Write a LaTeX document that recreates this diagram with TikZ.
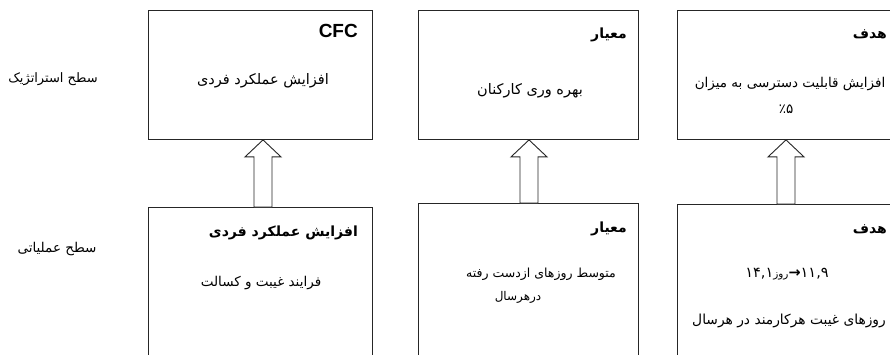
\documentclass[tikz,border=0pt]{standalone}
\usepackage{fontspec}
\setmainfont{Liberation Sans}
\newfontfamily\fa[Script=Arabic]{DejaVu Sans}
\TeXXeTstate=1
\usetikzlibrary{calc}
\newcommand\blockup[3]{%
  \draw[blockarrow] let \p1=(#1.south), \p2=(#2.north), \p3=(#3,0) in
    (\x3,\y1) -- (\x3+18pt,\y1-17pt) -- (\x3+9pt,\y1-17pt) -- (\x3+9pt,\y2)
    -- (\x3-9pt,\y2) -- (\x3-9pt,\y1-17pt) -- (\x3-18pt,\y1-17pt) -- cycle;}
\newcommand\fs[1]{\fontsize{#1}{#1}\selectfont}
\begin{document}
\begin{tikzpicture}[x=1pt,y=-1pt,
  box/.style={draw=black!85, line width=0.9pt, anchor=north west, inner sep=0pt},
  blockarrow/.style={draw=black!85, line width=0.9pt, fill=white},
  body/.style={font=\fa, inner sep=0pt},
  title/.style={font=\fa\bfseries\fs{14}, inner sep=0pt, anchor=east},
  side/.style={font=\fa, inner sep=0pt}]
\clip (0,0) rectangle (890,354);
\fill[white] (0,0) rectangle (890,354);
% boxes
\node[box, minimum width=224pt, minimum height=129pt] (b1) at (148,10) {};
\node[box, minimum width=220pt, minimum height=129pt] (b2) at (418,10) {};
\node[box, minimum width=240pt, minimum height=129pt] (b3) at (677,10) {};
\node[box, minimum width=224pt, minimum height=180pt] (b4) at (148,207) {};
\node[box, minimum width=220pt, minimum height=180pt] (b5) at (418,203) {};
\node[box, minimum width=240pt, minimum height=180pt] (b6) at (677,204) {};
% arrows
\blockup{b1}{b4}{263}
\blockup{b2}{b5}{529}
\blockup{b3}{b6}{786}
% side labels
\node[side] (s1) at (53,79) {\fs{13}\beginR سطح استراتژیک\endR};
\node[side] (s2) at (57,249) {\fs{13.5}\beginR سطح عملیاتی\endR};
% box 1
\node[inner sep=0pt, anchor=east, font=\bfseries\fs{19}] (t1) at (358,31) {CFC};
\node[body] (c1) at (263,81) {\fs{14.5}\beginR افزایش عملکرد فردی\endR};
% box 2
\node[title] (t2) at (627,35) {\beginR معیار\endR};
\node[body] (c2) at (530,91) {\fs{14.5}\beginR بهره وری کارکنان\endR};
% box 3
\node[title] (t3) at (887,34) {\beginR هدف\endR};
\node[body] (c3) at (790,84) {\fs{13.5}\beginR افزایش قابلیت دسترسی به میزان\endR};
\node[body] (c3b) at (786,109) {\fs{13.5}٪۵};
% box 4
\node[title] (t4) at (358,233) {\beginR افزایش عملکرد فردی\endR};
\node[body] (c4) at (261,283) {\fs{13.5}\beginR فرایند غیبت و کسالت\endR};
% box 5
\node[title] (t5) at (627,229) {\beginR معیار\endR};
\node[body] (c5) at (541,274) {\fs{12.5}\beginR متوسط روزهای ازدست رفته\endR};
\node[body] (c5b) at (518,297) {\fs{12}\beginR درهرسال\endR};
% box 6
\node[title] (t6) at (887,229) {\beginR هدف\endR};
\node[body] (c6) at (787,274) {\fs{14.5}۱۴,۱{\fs{10.5}\beginR روز\endR}\textbf{→}۱۱,۹};
\node[body] (c6b) at (789,321) {\fs{13.8}\beginR روزهای غیبت هرکارمند در هرسال\endR};
\end{tikzpicture}
\end{document}
